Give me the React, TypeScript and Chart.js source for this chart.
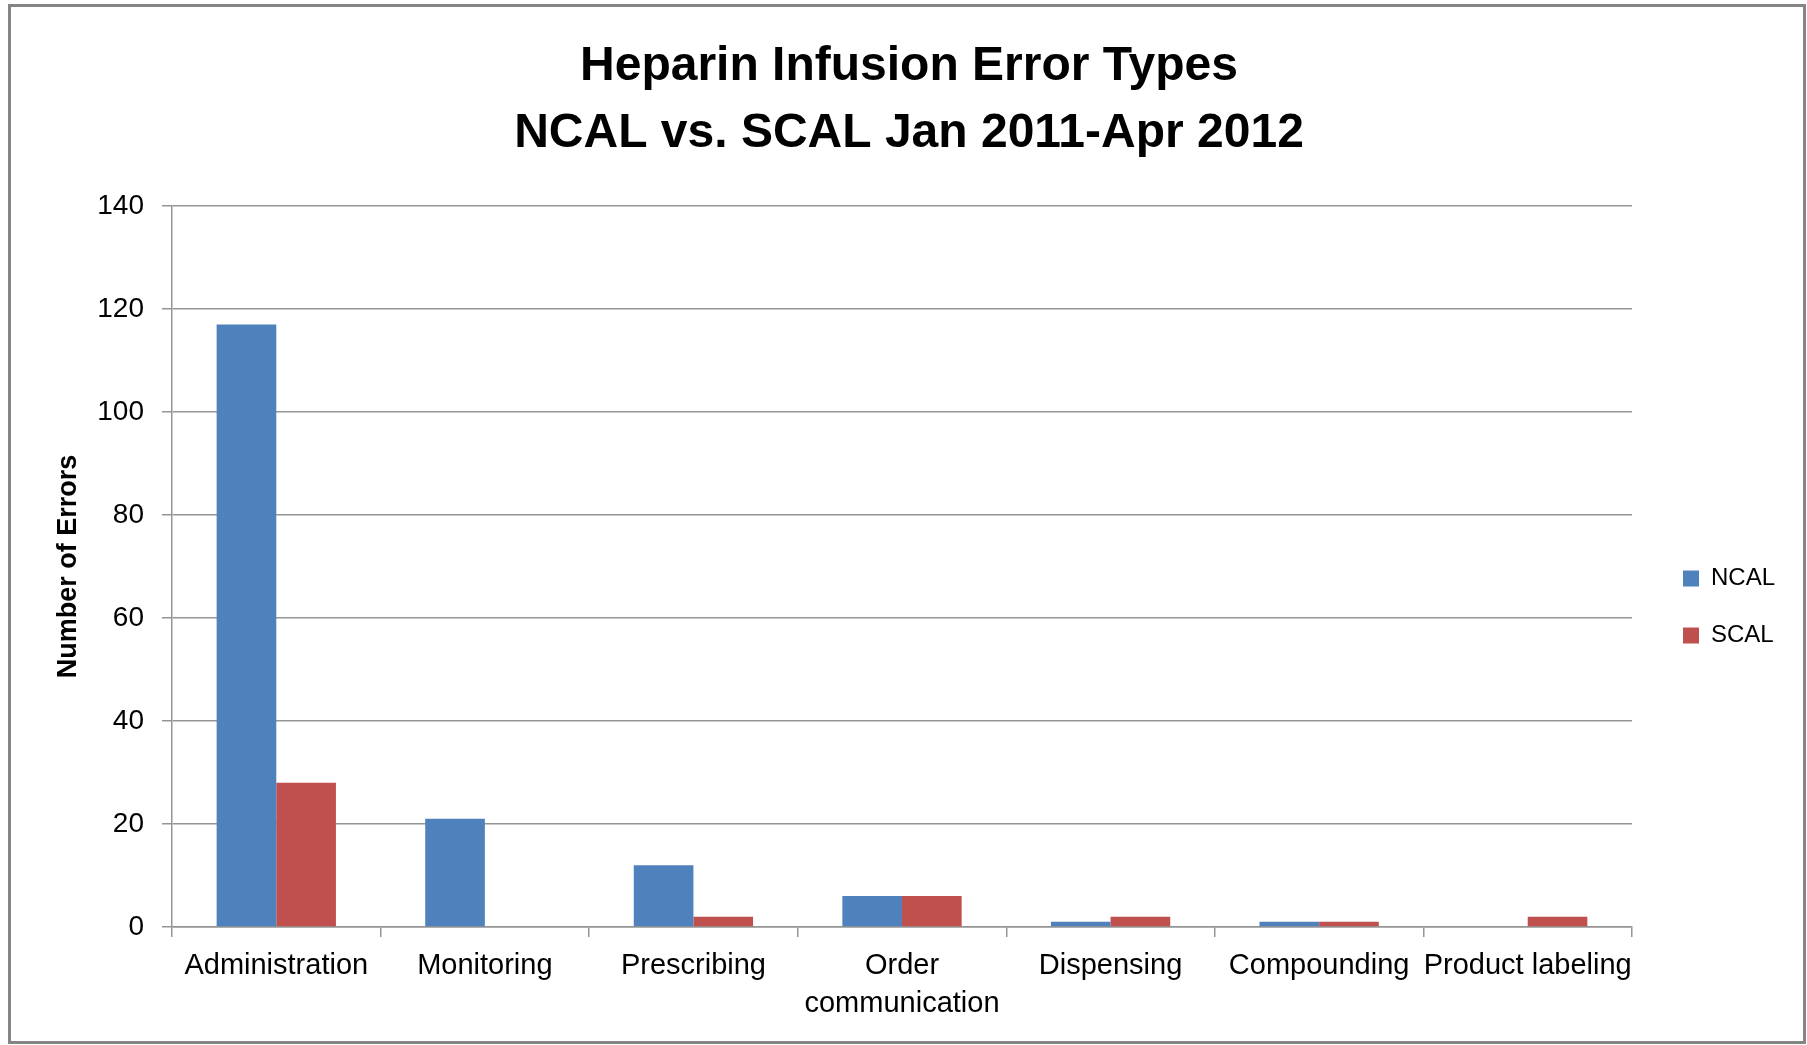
import React, { useEffect, useRef } from "react";
import { Chart, registerables } from "chart.js";

Chart.register(...registerables);

// ---- data ----
const categories: (string | string[])[] = [
  "Administration",
  "Monitoring",
  "Prescribing",
  ["Order", "communication"],
  "Dispensing",
  "Compounding",
  "Product labeling",
];
const seriesNames = ["NCAL", "SCAL"];
const ncalValues = [117, 21, 12, 6, 1, 1, 0];
const scalValues = [28, 0, 2, 6, 2, 1, 2];
const seriesColors = ["#4F81BD", "#C0504D"];
const yMin = 0;
const yMax = 140;
const yStep = 20;
const titleLines = ["Heparin Infusion Error Types", "NCAL vs. SCAL Jan 2011-Apr 2012"];
const yAxisTitle = "Number of Errors";

const FONT = "'Liberation Sans', Arial, sans-serif";
const GRID = "#959595";

const W = 1807;
const H = 1045;

const legendShift = {
  id: "legendShift",
  afterLayout(chart: any) {
    const lg = chart.legend;
    if (!lg) return;
    const pad = lg.options.labels.padding;
    const fontSize = 24;
    const targetBoxLeft = 1683;
    const dx = targetBoxLeft - pad - lg.left;
    lg.left += dx;
    lg.right += dx;
    const colH = lg.columnSizes && lg.columnSizes[0] ? lg.columnSizes[0].height : 2 * (fontSize + pad);
    const cursorY = (lg.top + pad + (lg.bottom - colH)) / 2;
    const targetCenter = 578.5;
    const dy = targetCenter - fontSize / 2 - cursorY;
    lg.top += dy;
    lg.bottom += dy;
  },
};

export default function App() {
  const ref = useRef<HTMLCanvasElement | null>(null);

  useEffect(() => {
    if (!ref.current) return;
    const chart = new Chart(ref.current, {
      type: "bar",
      data: {
        labels: categories as any,
        datasets: [
          {
            label: seriesNames[0],
            data: ncalValues,
            backgroundColor: seriesColors[0],
            borderWidth: 0,
            categoryPercentage: 0.572,
            barPercentage: 1.0,
          },
          {
            label: seriesNames[1],
            data: scalValues,
            backgroundColor: seriesColors[1],
            borderWidth: 0,
            categoryPercentage: 0.572,
            barPercentage: 1.0,
          },
        ],
      },
      options: {
        animation: false,
        responsive: false,
        devicePixelRatio: 1,
        layout: { padding: { left: 54, right: 43, top: 0, bottom: 0 } },
        plugins: {
          tooltip: { enabled: false },
          title: {
            display: true,
            text: titleLines,
            color: "#000",
            font: { family: FONT, size: 48, weight: "bold", lineHeight: 67 / 48 },
            padding: { top: 33.5, bottom: 38.5 },
          },
          legend: {
            display: true,
            position: "right",
            fullSize: false,
            maxWidth: 132,
            labels: {
              color: "#000",
              font: { family: FONT, size: 24 },
              boxWidth: 16,
              boxHeight: 16,
              padding: 33,
            },
          },
        },
        scales: {
          x: {
            ticks: {
              color: "#000",
              font: { family: FONT, size: 29, lineHeight: 38 / 29 },
              padding: 10,
              autoSkip: false,
              maxRotation: 0,
              minRotation: 0,
            },
            grid: {
              display: true,
              drawOnChartArea: false,
              drawTicks: true,
              tickLength: 10,
              color: GRID,
              lineWidth: 1.5,
              offset: true,
            },
            border: { display: true, color: GRID, width: 1.5 },
            afterFit: (s: any) => {
              s.height = 118;
            },
          },
          y: {
            min: yMin,
            max: yMax,
            ticks: {
              stepSize: yStep,
              color: "#000",
              font: { family: FONT, size: 28 },
              padding: 18,
            },
            grid: {
              color: GRID,
              lineWidth: 1.5,
              drawTicks: true,
              tickLength: 10,
            },
            border: { display: true, color: GRID, width: 1.5 },
            title: {
              display: true,
              text: yAxisTitle,
              color: "#000",
              font: { family: FONT, size: 27, weight: "bold", lineHeight: 1 },
              padding: { top: 1.5, bottom: 0 },
            },
            afterFit: (s: any) => {
              s.width = 118;
            },
          },
        },
      } as any,
      plugins: [legendShift],
    });
    return () => chart.destroy();
  }, []);

  return (
    <div style={{ position: "absolute", left: 0, top: 0, width: W, height: H, background: "#fff" }}>
      <canvas ref={ref} width={W} height={H} style={{ position: "absolute", left: 0, top: 0, width: W, height: H }} />
      <div
        style={{
          position: "absolute",
          left: 8,
          top: 4,
          width: 1798,
          height: 1040,
          border: "3px solid #858585",
          boxSizing: "border-box",
          pointerEvents: "none",
        }}
      />
    </div>
  );
}
